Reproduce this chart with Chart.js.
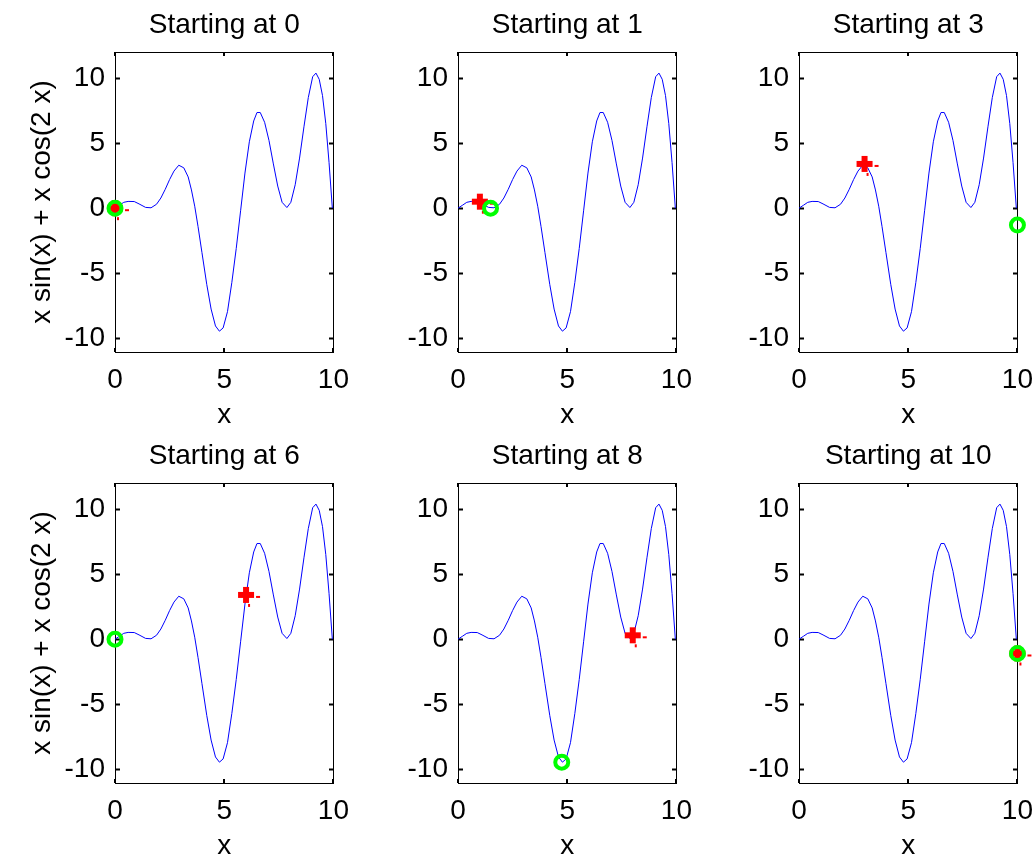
<!DOCTYPE html>
<html>
<head>
<meta charset="utf-8">
<title>Starting points</title>
<script src="https://cdn.jsdelivr.net/npm/chart.js@4.4.1/dist/chart.umd.min.js"></script>
<style>
  html, body { margin: 0; padding: 0; background: #fff; overflow: hidden; }
  body { width: 1036px; height: 858px; position: relative; }
  .panel { position: absolute; }
</style>
</head>
<body>
<script>
  // curve x sin(x) + x cos(2 x) on [0, 10]
  const curveX = [0, 0.2, 0.4, 0.6, 0.88, 1.1, 1.4, 1.65, 1.9, 2.1, 2.3, 2.5, 2.7, 2.92,
    3.15, 3.35, 3.5, 3.65, 3.8, 3.98, 4.2, 4.4, 4.6, 4.78, 4.95, 5.15, 5.35, 5.55, 5.75,
    5.95, 6.15, 6.35, 6.5, 6.65, 6.85, 7.05, 7.25, 7.45, 7.65, 7.87, 8.05, 8.25, 8.45,
    8.65, 8.85, 9.05, 9.2, 9.35, 9.5, 9.65, 9.8, 9.95];
  const curveY = [0, 0.22, 0.45, 0.52, 0.51, 0.33, 0.06, 0.03, 0.3, 0.78, 1.45, 2.2, 2.85, 3.3,
    3.1, 2.4, 1.4, 0.15, -1.4, -3.4, -5.85, -7.75, -9.05, -9.45, -9.2, -7.95, -5.7, -3.1, -0.2,
    2.7, 5.1, 6.7, 7.35, 7.35, 6.6, 5.2, 3.4, 1.7, 0.45, 0.05, 0.45, 1.8, 3.85,
    6.25, 8.5, 10.1, 10.38, 9.9, 8.65, 6.5, 3.5, 0];

  const titles = ["Starting at 0", "Starting at 1", "Starting at 3",
    "Starting at 6", "Starting at 8", "Starting at 10"];
  const startX = [0, 1, 3, 6, 8, 10];
  const startY = [0, 0.5, 3.4, 3.4, 0.3, -1.1];
  const minX = [0, 1.49, 10, 0, 4.75, 10];
  const minY = [0, 0.0, -1.3, 0, -9.45, -1.1];

  const xTicks = [0, 5, 10];
  const yTicks = [-10, -5, 0, 5, 10];
  const yLabel = "x sin(x) + x cos(2 x)";
  const xLabel = "x";

  // panel geometry (plot box corners)
  const colLeft = [115, 458, 799];
  const rowTop = [52, 483];
  const boxW = 221;
  const boxH = 300;
  const yAxisW = 100;
  const xAxisH = 80;
  const headH = 52;
  const padRight = 25;

  const FONT = "'Liberation Sans', Arial, Helvetica, sans-serif";
  Chart.defaults.font.family = FONT;
  Chart.defaults.color = "#000";

  const textFont = { family: FONT, size: 28, weight: "normal", lineHeight: "32px" };

  // thick red plus with the two small stray dashes of the start marker
  function makePlus() {
    const c = document.createElement("canvas");
    c.width = 34;
    c.height = 34;
    const g = c.getContext("2d");
    g.fillStyle = "#ff0000";
    g.fillRect(9, 14, 16, 6);
    g.fillRect(14, 9, 6, 16);
    g.fillRect(27, 18, 4, 2);
    g.fillRect(19, 26, 2, 3);
    return c;
  }
  const plusImg = makePlus();

  // axes box with inward ticks on all four sides
  const framePlugin = {
    id: "frame",
    beforeDatasetsDraw(chart) {
      const { ctx, chartArea: a, scales } = chart;
      const l = Math.round(a.left), r = Math.round(a.right);
      const t = Math.round(a.top), b = Math.round(a.bottom);
      ctx.save();
      ctx.strokeStyle = "#000";
      ctx.lineWidth = 1;
      ctx.strokeRect(l + 0.5, t + 0.5, r - l, b - t);
      ctx.lineWidth = 2;
      ctx.beginPath();
      xTicks.forEach((v) => {
        const px = Math.round(scales.x.getPixelForValue(v));
        ctx.moveTo(px, t);
        ctx.lineTo(px, t + 4);
        ctx.moveTo(px, b);
        ctx.lineTo(px, b - 4);
      });
      yTicks.forEach((v) => {
        const py = Math.round(scales.y.getPixelForValue(v)) + 0.5;
        ctx.moveTo(l, py);
        ctx.lineTo(l + 5, py);
        ctx.moveTo(r + 1, py);
        ctx.lineTo(r - 4, py);
      });
      ctx.stroke();
      ctx.restore();
    }
  };

  const curve = curveX.map((x, i) => ({ x, y: curveY[i] }));

  function makePanel(i) {
    const row = Math.floor(i / 3);
    const col = i % 3;
    const div = document.createElement("div");
    div.className = "panel";
    div.style.left = (colLeft[col] - yAxisW) + "px";
    div.style.top = (rowTop[row] - headH) + "px";
    div.style.width = (yAxisW + boxW + padRight) + "px";
    div.style.height = (headH + boxH + xAxisH) + "px";
    const canvas = document.createElement("canvas");
    div.appendChild(canvas);
    document.body.appendChild(div);

    new Chart(canvas, {
      type: "scatter",
      data: {
        datasets: [
          {
            data: [{ x: minX[i], y: minY[i] }],
            pointStyle: "circle",
            pointRadius: 6.5,
            borderColor: "#00ff00",
            backgroundColor: "rgba(0,0,0,0)",
            borderWidth: 4,
            clip: false
          },
          {
            data: [{ x: startX[i], y: startY[i] }],
            pointStyle: plusImg,
            pointRadius: 10,
            clip: false
          },
          {
            data: curve,
            showLine: true,
            borderColor: "#0000ff",
            borderWidth: 1,
            pointRadius: 0,
            tension: 0
          }
        ]
      },
      options: {
        responsive: true,
        maintainAspectRatio: false,
        animation: false,
        events: [],
        layout: { padding: { left: 0, right: padRight, top: 0, bottom: 0 } },
        plugins: {
          legend: { display: false },
          tooltip: { enabled: false },
          title: {
            display: true,
            fullSize: false,
            text: titles[i],
            color: "#000",
            font: textFont,
            padding: { top: 9, bottom: headH - 41 }
          }
        },
        scales: {
          x: {
            type: "linear",
            min: 0,
            max: 10,
            afterBuildTicks: (s) => { s.ticks = xTicks.map((v) => ({ value: v })); },
            afterFit: (s) => { s.height = xAxisH; },
            grid: { display: false, drawTicks: false },
            border: { display: false },
            ticks: {
              autoSkip: false,
              maxRotation: 0,
              padding: 12,
              color: "#000",
              font: textFont,
              callback: (v) => String(v)
            },
            title: {
              display: true,
              text: xLabel,
              color: "#000",
              font: textFont,
              padding: { top: 0, bottom: 1 }
            }
          },
          y: {
            type: "linear",
            min: -11.05,
            max: 12,
            afterBuildTicks: (s) => { s.ticks = yTicks.map((v) => ({ value: v })); },
            afterFit: (s) => { s.width = yAxisW; },
            grid: { display: false, drawTicks: false },
            border: { display: false },
            ticks: {
              autoSkip: false,
              padding: 10,
              color: "#000",
              font: textFont,
              callback: (v) => String(v)
            },
            title: {
              display: col === 0,
              text: yLabel,
              color: "#000",
              font: textFont,
              padding: { top: 11, bottom: 0 }
            }
          }
        }
      },
      plugins: [framePlugin]
    });
  }

  for (let i = 0; i < titles.length; i += 1) {
    makePanel(i);
  }
</script>
</body>
</html>
